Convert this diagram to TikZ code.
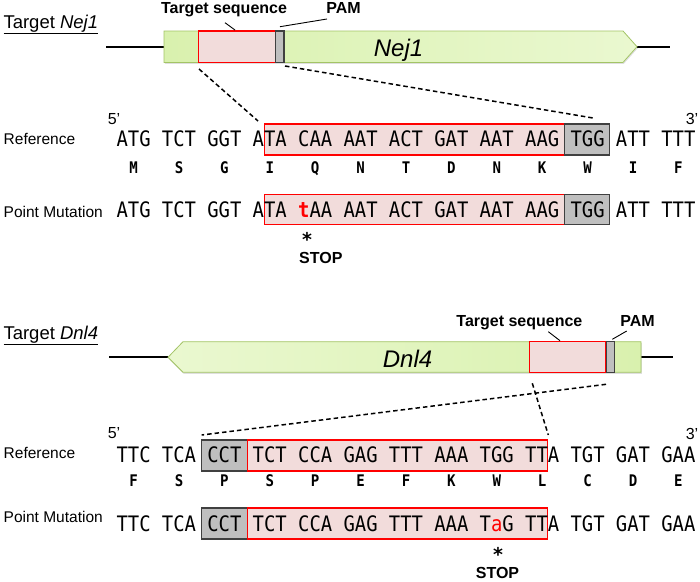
\documentclass[tikz,border=0pt]{standalone}
\usepackage{fontspec}
\usepackage{graphicx}
\setmainfont{Liberation Sans}
\newfontfamily\codonfont{DejaVu Sans Mono}
\usetikzlibrary{shadows}
\definecolor{genefillA}{HTML}{D9F1AE}
\definecolor{genefillB}{HTML}{EAF8D0}
\definecolor{geneedge}{HTML}{A3C466}
\definecolor{tgtfill}{HTML}{F2DCDB}
\definecolor{pamfill}{HTML}{BFBFBF}
\definecolor{pamedge}{HTML}{404040}
\newcommand\mutb[1]{{\color{red}\bfseries #1}}
\newcommand\muta[1]{{\color{red}#1}}
\newcommand\cdn[1]{\scalebox{0.887}[1]{\fontsize{21.3}{22}\codonfont #1}}
\newcommand\amn[1]{\scalebox{0.88}[1]{\fontsize{16}{17}\codonfont\bfseries #1}}
\newcommand\astk{{\fontsize{19}{19}\codonfont\bfseries *}}
\begin{document}
\begin{tikzpicture}[x=1pt,y=-1pt,
  lbl/.style={inner sep=0, font=\fontsize{15.5}{17}\selectfont},
  ttl/.style={inner sep=0, font=\fontsize{18.5}{20}\selectfont},
  bld/.style={inner sep=0, font=\fontsize{16}{18}\selectfont\bfseries},
  genename/.style={inner sep=0, font=\fontsize{24}{26}\selectfont\itshape},
  prime/.style={inner sep=0, font=\fontsize{16}{18}\selectfont},
  codon/.style={inner sep=0, anchor=base},
  amino/.style={inner sep=0, anchor=base},
  tgtbox/.style={draw=red, fill=tgtfill, line width=1.1pt, inner sep=0},
  pambox/.style={draw=pamedge, fill=pamfill, line width=1.1pt, inner sep=0},
  gene/.style={draw=geneedge, line width=0.8pt, drop shadow={opacity=0.25, shadow xshift=0.8pt, shadow yshift=-1.5pt}},
  dna/.style={line width=1.8pt},
  zoomline/.style={line width=1.5pt, dash pattern=on 4.5pt off 3pt},
  leader/.style={line width=0.9pt}]
\useasboundingbox (0,0) rectangle (700,581);

% ---------------- Nej1 ----------------
\coordinate (g1l) at (106,46.7);
\coordinate (g1w) at (164,46.7);
\coordinate (g1e) at (637,46.7);
\coordinate (g1r) at (670,46.7);
\draw[dna] (g1l) -- (g1w);
\draw[dna] (g1e) -- (g1r);
\path[gene, left color=genefillA, right color=genefillB]
  (164,31) -- (623,31) -- (g1e) -- (623,62.4) -- (164,62.4) -- cycle;
\node[tgtbox, minimum width=77pt, minimum height=31.4pt] (t1) at (236.8,46.7) {};
\node[pambox, minimum width=8.5pt, minimum height=31.4pt] (m1) at (279.7,46.7) {};
\node[genename, anchor=base] (gn1) at (398.5,56.5) {Nej1};
\node[ttl, anchor=base west] (tn1) at (3.3,28.3) {\underline{Target \textit{Nej1}}};
\node[bld, anchor=base] (ts1) at (224,13) {Target sequence};
\node[bld, anchor=base] (pm1) at (343.5,13) {PAM};
\coordinate (l1a) at (225,22.7); \coordinate (l1b) at (235,30);
\coordinate (l2a) at (280,26.7); \coordinate (l2b) at (327,19);
\draw[leader] (l1a) -- (l1b);
\draw[leader] (l2a) -- (l2b);
\coordinate (d1a) at (199,69); \coordinate (d1b) at (258,121);
\coordinate (d2a) at (285,66); \coordinate (d2b) at (593,118);
\draw[zoomline] (d1a) -- (d1b);
\draw[zoomline] (d2a) -- (d2b);

\node[tgtbox, minimum width=300.75pt, minimum height=31pt] (sa) at (414.5,139.5) {};
\node[pambox, minimum width=45pt, minimum height=31pt] (pa) at (587.4,139.5) {};
\node[tgtbox, minimum width=300.75pt, minimum height=30.5pt] (sb) at (414.5,209.3) {};
\node[pambox, minimum width=45pt, minimum height=30.5pt] (pb) at (587.4,209.3) {};

\node[prime] (p5a) at (114,119.5) {5’};
\node[prime] (p3a) at (692,119) {3’};
\node[lbl, anchor=base west] (ref1) at (3.5,144.5) {Reference};
\node[lbl, anchor=base west] (pt1) at (3.5,217) {Point Mutation};

\foreach \c [count=\i from 0] in {ATG,TCT,GGT,ATA,CAA,AAT,ACT,GAT,AAT,AAG,TGG,ATT,TTT}
  \node[codon] (ra\i) at ({133.6+45.4*\i},146.8) {\cdn{\c}};
\foreach \a [count=\i from 0] in {M,S,G,I,Q,N,T,D,N,K,W,I,F}
  \node[amino] (aa\i) at ({133.6+45.4*\i},173) {\amn{\a}};
\foreach \c [count=\i from 0] in {ATG,TCT,GGT,ATA,{\mutb{t}AA},AAT,ACT,GAT,AAT,AAG,TGG,ATT,TTT}
  \node[codon] (rb\i) at ({133.6+45.4*\i},217) {\cdn{\c}};

\node[inner sep=0, anchor=base] (st1) at (307,246.6) {\astk};
\node[bld, anchor=base west] (stop1) at (299,263.5) {STOP};

% ---------------- Dnl4 ----------------
\coordinate (g2l) at (109,357.3);
\coordinate (g2w) at (168,357.3);
\coordinate (g2e) at (641,357.3);
\coordinate (g2r) at (672.7,357.3);
\draw[dna] (g2l) -- (g2w);
\draw[dna] (g2e) -- (g2r);
\path[gene, left color=genefillB, right color=genefillA]
  (g2w) -- (183,341.7) -- (641,341.7) -- (641,372.3) -- (183,372.3) -- cycle;
\node[tgtbox, minimum width=76.7pt, minimum height=30.6pt] (t2) at (567.6,357) {};
\node[pambox, minimum width=8.5pt, minimum height=30.6pt] (m2) at (610.6,357) {};
\node[genename, anchor=base] (gn2) at (407.5,367.5) {Dnl4};
\node[ttl, anchor=base west] (tn2) at (3.3,339) {\underline{Target \textit{Dnl4}}};
\node[bld, anchor=base] (ts2) at (519.4,326.7) {Target sequence};
\node[bld, anchor=base] (pm2) at (637.5,326.7) {PAM};
\coordinate (l3a) at (548.3,331.7); \coordinate (l3b) at (560,340.7);
\coordinate (l4a) at (612.3,339.3); \coordinate (l4b) at (626.7,331);
\draw[leader] (l3a) -- (l3b);
\draw[leader] (l4a) -- (l4b);
\coordinate (d3a) at (606,384.3); \coordinate (d3b) at (201.7,435);
\coordinate (d4a) at (532.3,383.3); \coordinate (d4b) at (548.3,435);
\draw[zoomline] (d3a) -- (d3b);
\draw[zoomline] (d4a) -- (d4b);

\node[pambox, minimum width=45.4pt, minimum height=31pt] (pc) at (224.4,455.5) {};
\node[tgtbox, minimum width=300.8pt, minimum height=31pt] (sc) at (397.5,455.5) {};
\node[pambox, minimum width=45.4pt, minimum height=31pt] (pd) at (224.4,523.5) {};
\node[tgtbox, minimum width=300.8pt, minimum height=31pt] (sd) at (397.5,523.5) {};

\node[prime] (p5b) at (114,433) {5’};
\node[prime] (p3b) at (692,433.5) {3’};
\node[lbl, anchor=base west] (ref2) at (3.5,458.5) {Reference};
\node[lbl, anchor=base west] (pt2) at (3.5,522.5) {Point Mutation};

\foreach \c [count=\i from 0] in {TTC,TCA,CCT,TCT,CCA,GAG,TTT,AAA,TGG,TTA,TGT,GAT,GAA}
  \node[codon] (rc\i) at ({133.6+45.4*\i},462.3) {\cdn{\c}};
\foreach \a [count=\i from 0] in {F,S,P,S,P,E,F,K,W,L,C,D,E}
  \node[amino] (ab\i) at ({133.6+45.4*\i},486.5) {\amn{\a}};
\foreach \c [count=\i from 0] in {TTC,TCA,CCT,TCT,CCA,GAG,TTT,AAA,{T\muta{a}G},TTA,TGT,GAT,GAA}
  \node[codon] (rd\i) at ({133.6+45.4*\i},531.5) {\cdn{\c}};

\node[inner sep=0, anchor=base] (st2) at (498,561.5) {\astk};
\node[bld, anchor=base] (stop2) at (497.5,578.5) {STOP};
\end{tikzpicture}
\end{document}
